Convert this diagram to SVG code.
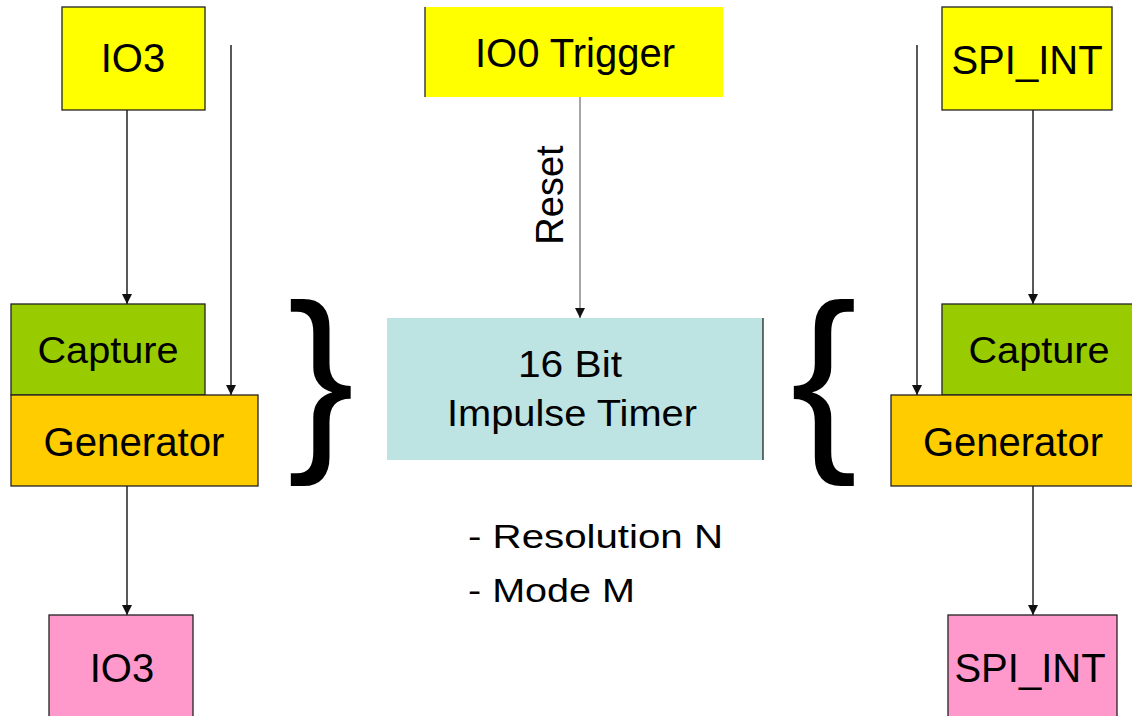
<svg xmlns="http://www.w3.org/2000/svg" width="1132" height="716" viewBox="0 0 1132 716">
<defs>
<style>
.t{font-family:"Liberation Sans",Arial,sans-serif;fill:#000;text-anchor:middle}
.b{stroke:#222;stroke-width:1.3}
.in{fill:#ffff00}.cap{fill:#99cc00}.gen{fill:#ffcc00}.out{fill:#ff99cc}.tim{fill:#bde3e3}
.c{stroke:#222;stroke-width:1.5;fill:none;marker-end:url(#ah)}
.br{font-family:"Liberation Sans",Arial,sans-serif;font-size:200px;fill:#000;text-anchor:middle}
</style>
<marker id="ah" viewBox="0 0 10 10" refX="10" refY="5" markerWidth="11" markerHeight="10" markerUnits="userSpaceOnUse" orient="auto">
<path d="M0,0 L10,5 L0,10 Z" fill="#111"/>
</marker>
</defs>
<rect width="1132" height="716" fill="#fff"/>

<g id="connectors">
<line class="c" x1="127" y1="110" x2="127" y2="304"/>
<line class="c" x1="231" y1="45" x2="231" y2="395"/>
<line class="c" x1="127" y1="486" x2="127" y2="615"/>
<line class="c" x1="580" y1="97" x2="580" y2="318" style="stroke:#888"/>
<line class="c" x1="917" y1="45" x2="917" y2="395"/>
<line class="c" x1="1033" y1="110" x2="1033" y2="304"/>
<line class="c" x1="1033" y1="486" x2="1033" y2="615"/>
<text class="t" font-size="38" transform="translate(563,195) rotate(-90)">Reset</text>
</g>

<g id="io3-in">
<rect class="in b" x="62" y="7" width="143" height="103"/>
<text class="t" x="133" y="72" font-size="40">IO3</text>
</g>
<g id="capture-left">
<rect class="cap b" x="11" y="304" width="194" height="91"/>
<text class="t" x="108" y="363" font-size="37" textLength="141" lengthAdjust="spacingAndGlyphs">Capture</text>
</g>
<g id="generator-left">
<rect class="gen b" x="11" y="395" width="247" height="91"/>
<text class="t" x="134" y="456" font-size="40" textLength="181" lengthAdjust="spacingAndGlyphs">Generator</text>
</g>
<g id="io3-out">
<rect class="out b" x="49" y="615" width="144" height="110"/>
<text class="t" x="122" y="682" font-size="40">IO3</text>
</g>

<g id="io0-trigger">
<rect class="in" x="425" y="7" width="298" height="90"/>
<line class="b" x1="425" y1="7" x2="425" y2="97"/>
<text class="t" x="575" y="67" font-size="40">IO0 Trigger</text>
</g>
<g id="timer">
<rect class="tim" x="387" y="318" width="376" height="142"/>
<line class="b" x1="763" y1="318" x2="763" y2="460"/>
<text class="t" x="570" y="377" font-size="36" textLength="104" lengthAdjust="spacingAndGlyphs">16 Bit</text>
<text class="t" x="572" y="426" font-size="36" textLength="250" lengthAdjust="spacingAndGlyphs">Impulse Timer</text>
</g>
<g id="params">
<text class="t" x="468" y="548" font-size="33" style="text-anchor:start" textLength="255" lengthAdjust="spacingAndGlyphs">- Resolution N</text>
<text class="t" x="468" y="602" font-size="33" style="text-anchor:start" textLength="167" lengthAdjust="spacingAndGlyphs">- Mode M</text>
</g>
<g id="brace-left">
<text class="br" x="321" y="444">}</text>
</g>
<g id="brace-right">
<text class="br" x="824" y="444">{</text>
</g>

<g id="spi-in">
<rect class="in b" x="942" y="7" width="170" height="103"/>
<text class="t" x="1027" y="74" font-size="40">SPI_INT</text>
</g>
<g id="capture-right">
<rect class="cap b" x="942" y="304" width="195" height="91"/>
<text class="t" x="1039" y="363" font-size="37" textLength="141" lengthAdjust="spacingAndGlyphs">Capture</text>
</g>
<g id="generator-right">
<rect class="gen b" x="891" y="395" width="246" height="91"/>
<text class="t" x="1013" y="456" font-size="40" textLength="180" lengthAdjust="spacingAndGlyphs">Generator</text>
</g>
<g id="spi-out">
<rect class="out b" x="948" y="615" width="169" height="110"/>
<text class="t" x="1030" y="682" font-size="40">SPI_INT</text>
</g>
</svg>
